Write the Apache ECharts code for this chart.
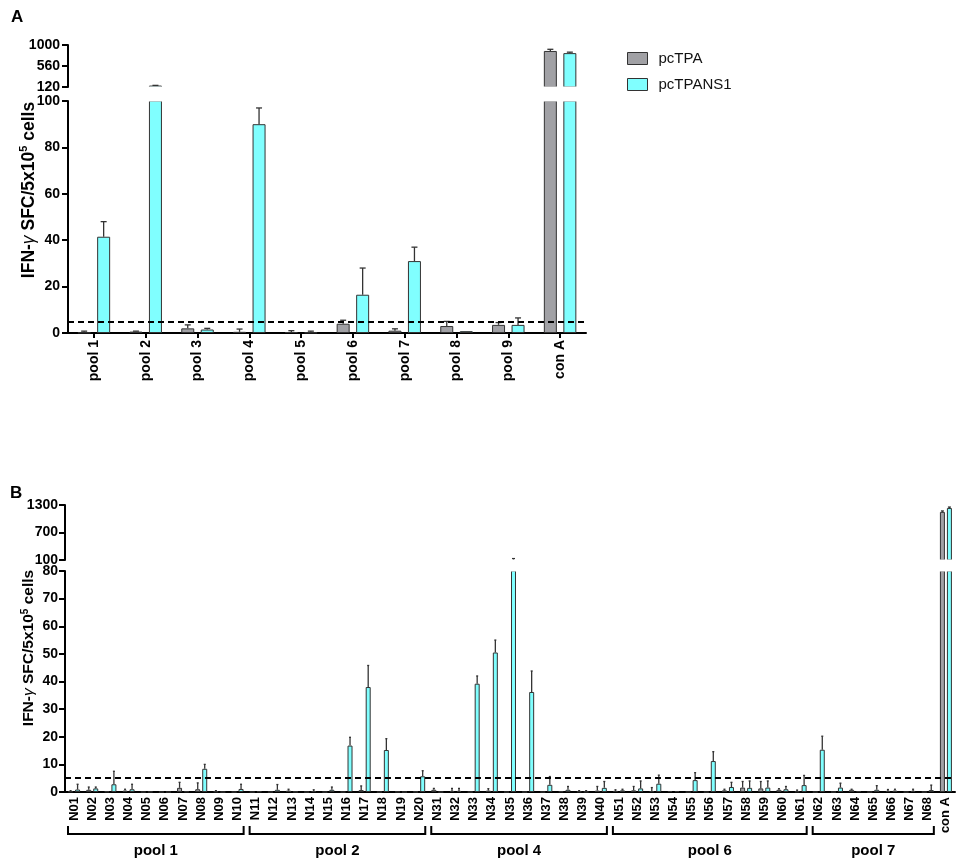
<!DOCTYPE html>
<html>
<head>
<meta charset="utf-8">
<script src="https://cdn.jsdelivr.net/npm/echarts@6.0.0/dist/echarts.min.js"></script>
<style>
html, body { margin: 0; padding: 0; background: #fff; }
#main { width: 957px; height: 861px; }
</style>
</head>
<body>
<div id="main"></div>
<script>
// ---- panel A: pools ----
var poolCats = ['pool 1', 'pool 2', 'pool 3', 'pool 4', 'pool 5', 'pool 6', 'pool 7', 'pool 8', 'pool 9', 'con A'];
var tpaA     = [0.2, 0.6, 2, 0.5, 0.4, 4, 1, 3, 3.5, 875];
var tpaErrA  = [0.6, 0.2, 1.5, 1.2, 0.6, 1.5, 0.8, 2, 1, 35];
var ns1A     = [41.5, 150, 1.5, 90, 0.2, 16.5, 31, 0.8, 3.5, 830];
var ns1ErrA  = [6.5, 4, 0.5, 7, 0.6, 11.5, 6, 0, 3, 20];

// ---- panel B: single peptides ----
var pepCats = ['N01', 'N02', 'N03', 'N04', 'N05', 'N06', 'N07', 'N08', 'N09', 'N10',
               'N11', 'N12', 'N13', 'N14', 'N15', 'N16', 'N17', 'N18', 'N19', 'N20',
               'N31', 'N32', 'N33', 'N34', 'N35', 'N36', 'N37', 'N38', 'N39', 'N40',
               'N51', 'N52', 'N53', 'N54', 'N55', 'N56', 'N57', 'N58', 'N59', 'N60', 'N61',
               'N62', 'N63', 'N64', 'N65', 'N66', 'N67', 'N68', 'con A'];
var tpaB    = [0.2, 0.8, 0.2, 0.5, 0, 0, 1.5, 1, 0.2, 0,
               0, 0, 0.5, 0, 0, 0, 0.7, 0, 0.1, 0.1,
               0.8, 0.4, 0, 0.5, 0, 0, 0, 0.2, 0.2, 0.5,
               0.4, 0.6, 0.3, 0.3, 0, 0, 0.6, 1.6, 1.3, 0.8, 0.2,
               0, 0, 0.8, 0, 0.4, 0, 0,
               1150];
var tpaErrB = [0.3, 1, 0, 0.5, 0, 0, 2, 2.3, 0.3, 0,
               0, 0, 0.5, 0, 0, 0, 1.5, 0, 0, 0,
               0.5, 0.9, 0, 0.7, 0, 0, 0, 0, 0.3, 1.5,
               0.4, 1.4, 1.3, 0, 0, 0, 0.4, 2.2, 2.5, 0.4, 0.5,
               0, 0, 0.2, 0, 0.5, 0, 0,
               20];
var ns1B    = [0.9, 1.3, 2.8, 1, 0.1, 0, 0.2, 8.4, 0, 1.1,
               0.2, 0.8, 0.1, 0.3, 0.8, 16.8, 38, 15.2, 0, 5.7,
               0, 0.4, 39.2, 50.5, 101, 36.2, 2.6, 0.8, 0.1, 1.5,
               0.6, 1.3, 3, 0.3, 4.3, 11.2, 1.8, 1.5, 1.6, 1, 2.5,
               15.3, 1.6, 0.3, 0.8, 0.5, 0.4, 0.7,
               1235];
var ns1ErrB = [1.9, 0.5, 4.7, 1.8, 0, 0, 0, 1.6, 0, 1.7,
               0, 1.9, 0, 0.5, 1, 3, 7.8, 4.1, 0, 2,
               0, 0.9, 2.8, 4.5, 30, 7.6, 3, 1.2, 0.4, 2.3,
               0.4, 2.7, 3.1, 0, 2.7, 3.4, 1.7, 2.5, 2.4, 1, 3.5,
               4.9, 1.6, 0, 1.5, 0.5, 0.6, 1.8,
               20];
var poolGroups = ['pool 1', 'pool 2', 'pool 4', 'pool 6', 'pool 7'];
var poolSizes  = [10, 10, 10, 11, 7];

var cutoff = 5;

var GRAY = '#a1a1a5';
var CYAN = '#80ffff';
var EDGE = '#333333';
var FONT = 'Liberation Sans';

// grid layout (upper/lower segment of each broken axis)
var gA1 = { left: 68, top: 45, width: 518, height: 42 };
var gA2 = { left: 68, top: 101, width: 518, height: 232 };
var gB1 = { left: 65, top: 505, width: 890, height: 55 };
var gB2 = { left: 65, top: 571, width: 890, height: 221 };

// bracket start/end index for each pool group
var bracketData = [];
var k = 0;
for (var g = 0; g < poolSizes.length; g++) {
    bracketData.push([k, k + poolSizes[g] - 1]);
    k += poolSizes[g];
}

function errData(vals, errs) {
    return vals.map(function (v, i) { return [i, v, errs[i]]; });
}

// draw an upward error bar, clipped to its grid
function errItem(off, cap) {
    return function (params, api) {
        var i = api.value(0), v = api.value(1), e = api.value(2);
        if (!(e > 0)) return null;
        var cs = params.coordSys;
        var yMin = cs.y, yMax = cs.y + cs.height;
        var base = api.coord([i, v]);
        var top = api.coord([i, v + e]);
        if (base[1] < yMin - 0.5 || top[1] > yMax) return null;
        var x = base[0] + off;
        var y1 = Math.min(base[1], yMax);
        var y2 = Math.max(top[1], yMin);
        var kids = [{
            type: 'line',
            shape: { x1: x, y1: y1, x2: x, y2: y2 },
            style: { stroke: EDGE, lineWidth: 1.3 }
        }];
        if (top[1] >= yMin) {
            kids.push({
                type: 'line',
                shape: { x1: x - cap, y1: top[1], x2: x + cap, y2: top[1] },
                style: { stroke: EDGE, lineWidth: 1.3 }
            });
        }
        return { type: 'group', children: kids };
    };
}

function barSeries(name, vals, color, xi, yi, w, lowCut) {
    return {
        name: name,
        type: 'bar',
        xAxisIndex: xi,
        yAxisIndex: yi,
        barWidth: w,
        barGap: w > 8 ? '50%' : '40%',
        data: lowCut == null ? vals : vals.map(function (v) { return v >= lowCut ? v : '-'; }),
        itemStyle: { color: color, borderColor: EDGE, borderWidth: 1 },
        emphasis: { disabled: true },
        animation: false
    };
}

function errSeries(vals, errs, xi, yi, off, cap) {
    return {
        type: 'custom',
        xAxisIndex: xi,
        yAxisIndex: yi,
        data: errData(vals, errs),
        renderItem: errItem(off, cap),
        z: 4,
        silent: true,
        animation: false
    };
}

function cutLine() {
    return {
        silent: true,
        symbol: 'none',
        z: 6,
        label: { show: false },
        lineStyle: { color: '#000', type: [6, 4], width: 2 },
        data: [{ yAxis: cutoff }]
    };
}

// white strip over the axis break, hides the clipped bar edges
function breakCover(up, low) {
    var y0 = up.top + up.height - 0.5;
    return {
        type: 'rect', z: 50, silent: true,
        shape: { x: up.left + 1.5, y: y0, width: up.width + 4, height: low.top + 0.6 - y0 },
        style: { fill: '#fff' }
    };
}

function yTitle(x, y, fs) {
    var lh = fs + 3;
    return {
        type: 'text', x: x, y: y, rotation: Math.PI / 2,
        style: {
            text: '{b|IFN-}{g|γ}{b| SFC/5x10}{s|5}{b| cells}',
            align: 'center', verticalAlign: 'middle',
            rich: {
                b: { fontFamily: FONT, fontWeight: 'bold', fontSize: fs, fill: '#000', lineHeight: lh },
                g: { fontFamily: FONT, fontStyle: 'italic', fontSize: fs, fill: '#000', lineHeight: lh },
                s: { fontFamily: FONT, fontWeight: 'bold', fontSize: Math.round(fs * 0.65), fill: '#000', verticalAlign: 'top', lineHeight: lh }
            }
        }
    };
}

var axisLine = { show: true, lineStyle: { color: '#000', width: 2 } };
function yLabel(margin) {
    return {
        margin: margin, color: '#000', fontFamily: FONT, fontWeight: 'bold', fontSize: 14,
        formatter: function (v) { return String(v); }
    };
}
var yTick = { show: true, length: 6, lineStyle: { color: '#000', width: 2 } };

var myChart = echarts.init(document.getElementById('main'));

var option = {
    backgroundColor: '#fff',
    animation: false,
    grid: [gA1, gA2, gB1, gB2].map(function (gr) { return Object.assign({ outerBoundsMode: 'none' }, gr); }),
    xAxis: [
        { type: 'category', gridIndex: 0, data: poolCats, show: false },
        {
            type: 'category', gridIndex: 1, data: poolCats,
            axisLine: axisLine,
            axisTick: { show: true, alignWithLabel: true, length: 5, lineStyle: { color: '#000', width: 2 } },
            axisLabel: { interval: 0, rotate: 90, margin: 7, color: '#000', fontFamily: FONT, fontWeight: 'bold', fontSize: 14 },
            splitLine: { show: false }
        },
        { type: 'category', gridIndex: 2, data: pepCats, show: false },
        {
            type: 'category', gridIndex: 3, data: pepCats,
            axisLine: axisLine,
            axisTick: { show: false },
            axisLabel: { interval: 0, rotate: 90, margin: 5, color: '#000', fontFamily: FONT, fontWeight: 'bold', fontSize: 13 },
            splitLine: { show: false }
        }
    ],
    yAxis: [
        { type: 'value', gridIndex: 0, min: 120, max: 1000, interval: 440, axisLine: axisLine, axisTick: yTick, axisLabel: yLabel(8), splitLine: { show: false } },
        { type: 'value', gridIndex: 1, min: 0, max: 100, interval: 20, axisLine: axisLine, axisTick: yTick, axisLabel: yLabel(8), splitLine: { show: false } },
        { type: 'value', gridIndex: 2, min: 100, max: 1300, interval: 600, axisLine: axisLine, axisTick: yTick, axisLabel: yLabel(7), splitLine: { show: false } },
        { type: 'value', gridIndex: 3, min: 0, max: 80, interval: 10, axisLine: axisLine, axisTick: yTick, axisLabel: yLabel(7), splitLine: { show: false } }
    ],
    legend: {
        left: 622,
        top: 46,
        orient: 'vertical',
        itemWidth: 20,
        itemHeight: 12,
        itemGap: 11,
        selectedMode: false,
        textStyle: { fontFamily: FONT, fontSize: 15, color: '#111', padding: [0, 0, 0, 6] },
        data: [
            { name: 'pcTPA', icon: 'rect', itemStyle: { color: GRAY, borderColor: EDGE, borderWidth: 1 } },
            { name: 'pcTPANS1', icon: 'rect', itemStyle: { color: CYAN, borderColor: EDGE, borderWidth: 1 } }
        ]
    },
    graphic: [
        { type: 'text', left: 11, top: 9, style: { text: 'A', font: 'bold 17px "Liberation Sans"', fill: '#000' } },
        { type: 'text', left: 10, top: 485, style: { text: 'B', font: 'bold 17px "Liberation Sans"', fill: '#000' } },
        yTitle(29, 190, 17.5),
        yTitle(29, 648, 15.5),
        breakCover(gA1, gA2),
        breakCover(gB1, gB2)
    ],
    series: [
        // panel A upper
        barSeries('pcTPA', tpaA, GRAY, 0, 0, 13, 120),
        barSeries('pcTPANS1', ns1A, CYAN, 0, 0, 13, 120),
        errSeries(tpaA, tpaErrA, 0, 0, -9.75, 3),
        errSeries(ns1A, ns1ErrA, 0, 0, 9.75, 3),
        // panel A lower
        Object.assign(barSeries('pcTPA', tpaA, GRAY, 1, 1, 13), { markLine: cutLine() }),
        barSeries('pcTPANS1', ns1A, CYAN, 1, 1, 13),
        errSeries(tpaA, tpaErrA, 1, 1, -9.75, 3),
        errSeries(ns1A, ns1ErrA, 1, 1, 9.75, 3),
        // panel B upper
        barSeries('pcTPA', tpaB, GRAY, 2, 2, 5, 100),
        barSeries('pcTPANS1', ns1B, CYAN, 2, 2, 5, 100),
        errSeries(tpaB, tpaErrB, 2, 2, -3.5, 1.5),
        errSeries(ns1B, ns1ErrB, 2, 2, 3.5, 1.5),
        // panel B lower
        Object.assign(barSeries('pcTPA', tpaB, GRAY, 3, 3, 5), { markLine: cutLine() }),
        barSeries('pcTPANS1', ns1B, CYAN, 3, 3, 5),
        errSeries(tpaB, tpaErrB, 3, 3, -3.5, 1),
        errSeries(ns1B, ns1ErrB, 3, 3, 3.5, 1),
        // pool brackets under panel B
        {
            type: 'custom',
            xAxisIndex: 3,
            yAxisIndex: 3,
            silent: true,
            animation: false,
            data: bracketData,
            renderItem: function (params, api) {
                var s = api.coord([api.value(0), 0]);
                var e = api.coord([api.value(1), 0]);
                var w = api.size([1, 0])[0];
                var x1 = s[0] - w / 2 + 3, x2 = e[0] + w / 2 - 3;
                var y = s[1] + 42;
                return {
                    type: 'group',
                    children: [
                        {
                            type: 'polyline',
                            shape: { points: [[x1, y - 8], [x1, y], [x2, y], [x2, y - 8]] },
                            style: { stroke: '#000', lineWidth: 2, fill: null }
                        },
                        {
                            type: 'text',
                            style: {
                                text: poolGroups[params.dataIndex],
                                x: (x1 + x2) / 2, y: y + 17,
                                align: 'center', verticalAlign: 'middle',
                                font: 'bold 15px "Liberation Sans"', fill: '#000'
                            }
                        }
                    ]
                };
            }
        }
    ]
};

myChart.setOption(option);
</script>
</body>
</html>
